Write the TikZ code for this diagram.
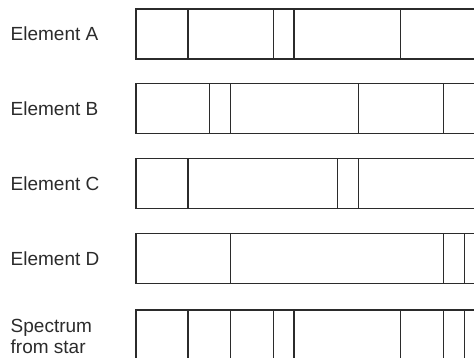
\documentclass[tikz,border=0pt]{standalone}
\usepackage{fontspec}
\setmainfont{Liberation Sans}
\usepackage{xcolor}
\definecolor{ink}{HTML}{2B2B2B}
\begin{document}
\begin{tikzpicture}[x=1pt, y=-1pt,
  bar/.style={draw=ink, line width=1.3pt},
  lbl/.style={anchor=base west, inner sep=0pt, text=ink, align=left,
    font=\fontsize{19}{20.7}\selectfont}
]
\useasboundingbox (0,0) rectangle (474,358);

% element rows: top edge / name / line positions
\foreach \t/\n/\lines in {9/A/{188,273.3,294,400.7},
                          83.5/B/{209.3,230.7,358.3,443.3},
                          158.5/C/{188,337.3,358.3},
                          233.5/D/{230.7,443.3,464.3}}{
  \node[lbl] (lbl\n) at (10.5,\t+31.7) {Element \n};
  \draw[bar] (474,\t) -| (136,\t+50) -- (474,\t+50);
  \foreach \x in \lines
    \draw[bar] (\x,\t) -- (\x,\t+50);
}

% spectrum from star (base of last line)
\node[lbl] (lblstar) at (10.5,353.3) {Spectrum\\from star};
\draw[bar] (474,310) -| (136,358);
\foreach \x in {188,230.7,273.3,294,400.7,443.3,464.3}
  \draw[bar] (\x,310) -- (\x,358);
\end{tikzpicture}
\end{document}
